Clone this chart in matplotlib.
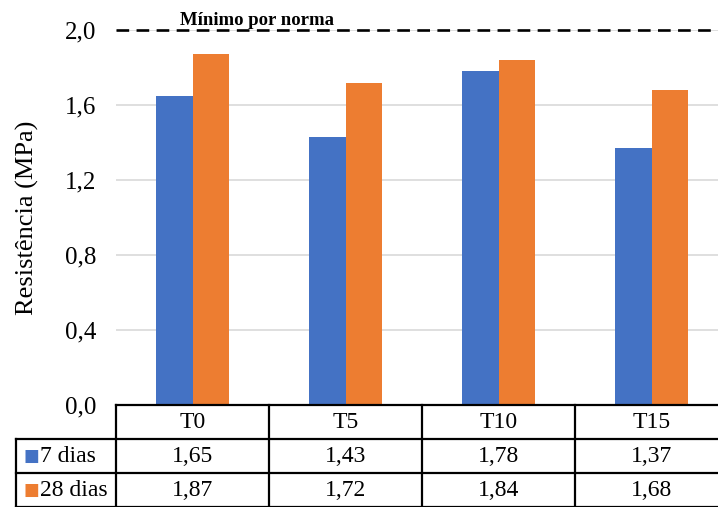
import matplotlib.pyplot as plt
import numpy as np

# dados do ensaio
tracos = ["T0", "T5", "T10", "T15"]
dias_7 = [1.65, 1.43, 1.78, 1.37]
dias_28 = [1.87, 1.72, 1.84, 1.68]
series = ["7 dias", "28 dias"]
yticks = [0.0, 0.4, 0.8, 1.2, 1.6, 2.0]
minimo_norma = 2.0

azul = "#4472C4"
laranja = "#ED7D31"

plt.rcParams['font.family'] = ['Liberation Serif', 'DejaVu Serif']

W, H = 718, 507
fig = plt.figure(figsize=(W / 100, H / 100), dpi=100)

# posicoes em pixels (convertidas para fracao da figura)
left_px, right_px = 116, 728
top_px, bottom_px = 30, 405
ax = fig.add_axes([left_px / W, 1 - bottom_px / H,
                   (right_px - left_px) / W, (bottom_px - top_px) / H])

x = np.arange(len(tracos))
w = 0.24
ax.bar(x - w / 2, dias_7, w, color=azul, zorder=3)
ax.bar(x + w / 2, dias_28, w, color=laranja, zorder=3)

ax.set_xlim(-0.5, len(tracos) - 0.5)
ax.set_ylim(0, 2.0)
ax.set_yticks(yticks)
ax.set_yticklabels([f"{v:.1f}".replace(".", ",") for v in yticks], fontsize=18)
ax.set_xticks([])
ax.grid(axis="y", color="#D9D9D9", lw=1.2, zorder=0)
ax.tick_params(axis="y", length=0, pad=14)
for s in ax.spines.values():
    s.set_visible(False)
ax.set_ylabel("Resistência (MPa)", fontsize=19, labelpad=19)

# linha do minimo por norma
ax.axhline(minimo_norma, color="black", lw=1.9, ls=(0, (4.8, 2.8)), clip_on=False, zorder=4)
ax.text(0.42, minimo_norma + 0.004, "Mínimo por norma", fontsize=13.5, fontweight="bold",
        ha="center", va="bottom", zorder=5)

# tabela de dados
tab_left = 16
tab = fig.add_axes([tab_left / W, 0, (right_px - tab_left) / W, (H - bottom_px) / H])
unit = (right_px - left_px) / len(tracos)
x0 = -0.5 - (left_px - tab_left) / unit
tab.set_xlim(x0, len(tracos) - 0.5)
tab.set_ylim(3, 0)
tab.axis("off")

lc = dict(color="black", lw=1.6, clip_on=False)
tab.plot([-0.5, len(tracos) - 0.5], [0, 0], **lc)
tab.plot([x0, len(tracos) - 0.5], [1, 1], **lc)
tab.plot([x0, len(tracos) - 0.5], [2, 2], **lc)
tab.plot([x0, len(tracos) - 0.5], [3, 3], **lc)
tab.plot([x0, x0], [1, 3], **lc)
for b in np.arange(len(tracos)) - 0.5:
    tab.plot([b, b], [0, 3], **lc)

for i, t in enumerate(tracos):
    tab.text(i, 0.5, t, ha="center", va="center", fontsize=17)
    tab.text(i, 1.5, f"{dias_7[i]:.2f}".replace(".", ","), ha="center", va="center", fontsize=17)
    tab.text(i, 2.5, f"{dias_28[i]:.2f}".replace(".", ","), ha="center", va="center", fontsize=17)

for r, (nome, cor) in enumerate(zip(series, [azul, laranja])):
    tab.text(x0 + 0.05, r + 1.5, "\u25A0", color=cor, ha="left", va="center",
             fontsize=12, family=["DejaVu Sans"])
    tab.text(x0 + 0.155, r + 1.5, nome, ha="left", va="center", fontsize=17)

fig.savefig("out.png", dpi=100)
